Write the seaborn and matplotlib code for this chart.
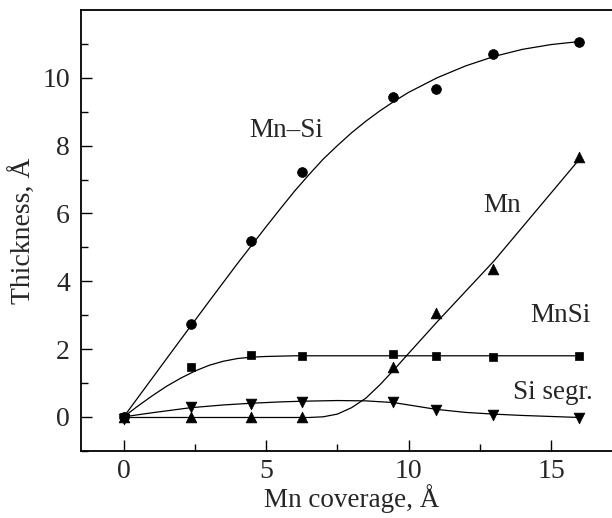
#!/usr/bin/env python3

import matplotlib

matplotlib.use("Agg")
import matplotlib.pylab as plt
from matplotlib.ticker import FixedLocator, MultipleLocator
import seaborn as sns

sns.set_theme(style="ticks")
plt.rcParams["font.family"] = ["Liberation Serif", "DejaVu Serif"]

# Measured points (Mn coverage, A)
coverage = [0, 2.36, 4.47, 6.27, 9.47, 10.97, 12.97, 16.0]
mn_si = [0, 2.75, 5.18, 7.21, 9.43, 9.68, 10.71, 11.07]
mnsi = [0, 1.46, 1.82, 1.80, 1.86, 1.80, 1.77, 1.78]
mn = [0, -0.02, -0.02, -0.02, 1.46, 3.07, 4.37, 7.67]
si_segr = [-0.05, 0.30, 0.38, 0.43, 0.43, 0.19, 0.06, -0.04]

# Guide curves
mn_si_fit_x = [0, 1, 2, 3, 4, 5, 5.5, 6, 6.5, 7, 7.5, 8, 8.5, 9, 9.5, 10,
               11, 12, 13, 14, 15, 16]
mn_si_fit_y = [0, 1.14, 2.28, 3.41, 4.53, 5.61, 6.14, 6.66, 7.14, 7.6, 8.0,
               8.38, 8.72, 9.03, 9.31, 9.57, 10.0, 10.35, 10.63, 10.84,
               10.98, 11.07]
mnsi_fit_x = [0, 0.5, 1, 1.5, 2, 2.5, 3, 3.5, 4, 4.5, 5, 6, 8, 16]
mnsi_fit_y = [0, 0.32, 0.62, 0.9, 1.14, 1.35, 1.52, 1.64, 1.72, 1.76,
              1.78, 1.8, 1.8, 1.8]
mn_fit_x = [0, 6.5, 7, 7.5, 8, 8.5, 9, 9.5, 10, 11, 12, 13, 14, 15, 16]
mn_fit_y = [-0.02, -0.02, 0.0, 0.08, 0.27, 0.55, 0.95, 1.4, 1.87, 2.8,
            3.7, 4.6, 5.6, 6.6, 7.6]
si_fit_x = [0, 1, 2.36, 3.5, 4.47, 5.5, 6.27, 7.5, 8.5, 9.47, 10, 10.97,
            12, 12.97, 14, 16]
si_fit_y = [0, 0.12, 0.27, 0.35, 0.4, 0.44, 0.46, 0.48, 0.47, 0.42, 0.35,
            0.22, 0.13, 0.08, 0.04, -0.02]

labels = ["Mn\u2013Si", "Mn", "MnSi", "Si segr."]
label_x = [5.71, 13.27, 15.33, 15.07]
label_y = [8.46, 6.24, 2.99, 0.72]

y_major = [0, 2, 4, 6, 8, 10]
y_minor = [-1, 1, 3, 5, 7, 9, 11]

fig = plt.figure(figsize=(6.12, 5.18), dpi=100)
ax = fig.add_axes([0.1324, 0.1299, 0.8843, 0.8508])

for fx, fy in [
    (mn_si_fit_x, mn_si_fit_y),
    (mnsi_fit_x, mnsi_fit_y),
    (mn_fit_x, mn_fit_y),
    (si_fit_x, si_fit_y),
]:
    sns.lineplot(x=fx, y=fy, color="black", linewidth=0.9, ax=ax, sort=False)

for vals, marker, size in [
    (mn_si, "o", 50),
    (mnsi, "s", 34),
    (mn, "^", 60),
    (si_segr, "v", 60),
]:
    sns.scatterplot(x=coverage, y=vals, marker=marker, s=size, color="black",
                    edgecolor="black", linewidth=0.5, ax=ax, zorder=3)

for text, tx, ty in zip(labels, label_x, label_y):
    ax.text(tx, ty, text, fontsize=19.5, ha="center", va="center")

ax.set_xlim(-1.5, 17.5)
ax.set_ylim(-1, 12)
ax.xaxis.set_major_locator(MultipleLocator(5))
ax.xaxis.set_minor_locator(MultipleLocator(2.5))
ax.yaxis.set_major_locator(FixedLocator(y_major))
ax.yaxis.set_minor_locator(FixedLocator(y_minor))
ax.tick_params(which="both", direction="in", labelsize=20, color="black",
               width=1.0)
ax.tick_params(axis="x", pad=6)
ax.tick_params(axis="y", pad=8)
ax.tick_params(which="major", length=8)
ax.tick_params(which="minor", length=5)
for side in ["left", "bottom", "top"]:
    ax.spines[side].set_linewidth(1.3)
    ax.spines[side].set_color("black")
ax.spines["right"].set_visible(False)

ax.set_xlabel("Mn coverage, \u00c5", fontsize=19.5, labelpad=0)
ax.set_ylabel("Thickness, \u00c5", fontsize=20, labelpad=4)

plt.savefig("out.png", dpi=100)
